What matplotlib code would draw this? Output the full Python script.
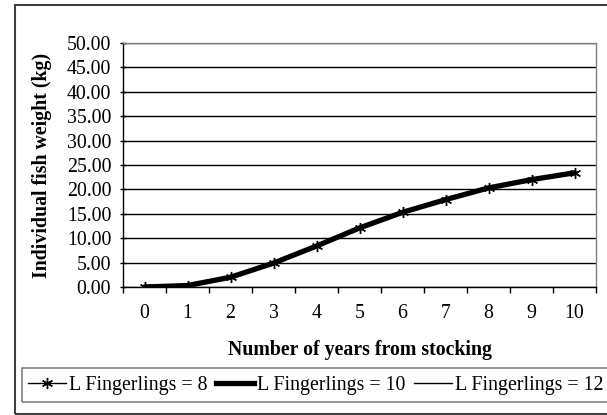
import matplotlib
matplotlib.use("Agg")
import matplotlib.pyplot as plt
from matplotlib.patches import Rectangle
from matplotlib.lines import Line2D
from matplotlib.font_manager import FontProperties

years = [0, 1, 2, 3, 4, 5, 6, 7, 8, 9, 10]
weight_l8 = [0.0, 0.3, 2.0, 4.9, 8.4, 12.1, 15.3, 17.9, 20.3, 22.0, 23.4]
weight_l10 = [0.0, 0.3, 2.0, 4.9, 8.4, 12.1, 15.3, 17.9, 20.3, 22.0, 23.4]
weight_l12 = [0.0, 0.3, 2.0, 4.9, 8.4, 12.1, 15.3, 17.9, 20.3, 22.0, 23.4]
y_ticks = [0, 5, 10, 15, 20, 25, 30, 35, 40, 45, 50]
labels = ["L Fingerlings = 8", "L Fingerlings = 10", "L Fingerlings = 12"]

plt.rcParams['font.family'] = ['Liberation Serif', 'DejaVu Serif']
FS = 14.3
serif = FontProperties(family='Liberation Serif', size=FS)
serif_bold = FontProperties(family='Liberation Serif', size=FS, weight='bold')

W, H = 607, 415
fig = plt.figure(figsize=(W / 100, H / 100), dpi=100)

# outer chart frame
fig.patches.append(Rectangle((15 / W, 1 - 414 / H), (W + 10 - 15) / W, (414 - 5) / H,
                             transform=fig.transFigure, fill=False,
                             edgecolor='#404040', linewidth=1.5, clip_on=False))

ax = fig.add_axes([123 / W, 1 - 287 / H, (596 - 123) / W, (287 - 43) / H])

ax.plot(years, weight_l10, color='black', linewidth=3.8, solid_capstyle='round',
        label=labels[1], zorder=3)
ax.plot(years, weight_l12, color='black', linewidth=1.0, label=labels[2], zorder=4)
ax.plot(years, weight_l8, color='black', linewidth=1.0, marker=(6, 2, 0),
        markersize=8, markeredgewidth=1.0, label=labels[0], zorder=5)

ax.set_xlim(-0.5, 10.5)
ax.set_ylim(0, 50)
ax.set_yticks(y_ticks)
ax.set_yticklabels([f"{v:.2f}" for v in y_ticks], fontproperties=serif)
ax.yaxis.grid(True, color='black', linewidth=1.0)
ax.set_axisbelow(True)

# category axis: tick marks on boundaries, labels centered
ax.set_xticks([i - 0.5 for i in years] + [10.5])
ax.set_xticklabels([])
ax.set_xticks(years, minor=True)
ax.set_xticklabels([str(v) for v in years], minor=True, fontproperties=serif)
ax.tick_params(axis='x', which='major', direction='out', length=4.5, width=1.0)
ax.tick_params(axis='x', which='minor', length=0, pad=12)
ax.tick_params(axis='y', direction='inout', length=5, width=1.0, pad=6)

for s in ['top', 'right']:
    ax.spines[s].set_color('#808080')
    ax.spines[s].set_linewidth(1.0)
for s in ['left', 'bottom']:
    ax.spines[s].set_color('black')
    ax.spines[s].set_linewidth(1.0)

fig.text(42 / W, 1 - 165 / H, "Individual fish weight (kg)", rotation=90,
         ha='center', va='center', fontproperties=serif_bold)
fig.text(360 / W, 1 - 350 / H, "Number of years from stocking",
         ha='center', va='center', fontproperties=serif_bold)

# legend frame
fig.patches.append(Rectangle((22 / W, 1 - 402 / H), (W + 10 - 22) / W, (402 - 368) / H,
                             transform=fig.transFigure, fill=False,
                             edgecolor='#808080', linewidth=1.2, clip_on=False))
h8 = Line2D([], [], color='black', linewidth=1.0, marker=(6, 2, 0),
            markersize=8, markeredgewidth=1.0)
h10 = Line2D([], [], color='black', linewidth=3.8)
h12 = Line2D([], [], color='black', linewidth=1.0)
fig.legend([h8, h10, h12], labels, loc='center left',
           bbox_to_anchor=(28 / W, 1 - 385 / H), ncol=3, frameon=False,
           prop=serif, handlelength=1.9, handletextpad=0.15,
           columnspacing=0.45, borderpad=0, borderaxespad=0)

fig.savefig("out.png", dpi=100)
